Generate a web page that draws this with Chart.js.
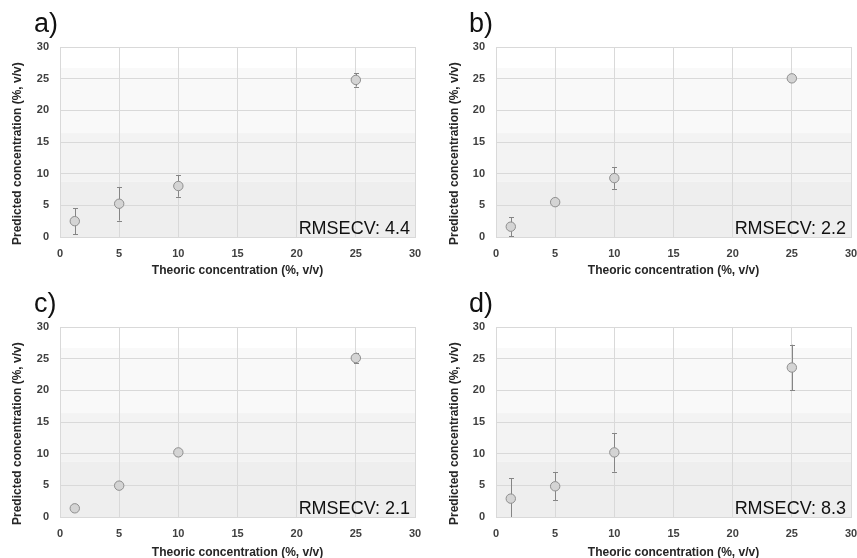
<!DOCTYPE html>
<html><head><meta charset="utf-8">
<script src="https://cdn.jsdelivr.net/npm/chart.js@4.4.0/dist/chart.umd.min.js"></script>
<style>
html,body{margin:0;padding:0;background:#fff;overflow:hidden;width:857px;height:558px;}
#wrap{position:relative;width:857px;height:558px;overflow:hidden;}
.pane{position:absolute;}
.pane canvas{display:block;}
.lbl{position:absolute;font-family:"Liberation Sans",Arial,sans-serif;color:#111;white-space:nowrap;}
.plabel{font-size:27px;line-height:27px;}
.rms{font-size:18px;line-height:18px;text-align:right;}
</style></head><body>
<div id="wrap"></div>
<script>
// ---- data ----
const theoric = [1.25, 5, 10, 25];
const predA = [2.5, 5.25, 8.05, 24.8];
const errA  = [2.05, 2.65, 1.7, 1.05];
const predB = [1.63, 5.5, 9.3, 25.05];
const errB  = [1.5, 0.3, 1.7, 0.2];
const predC = [1.37, 4.95, 10.2, 25.1];
const errC  = [0.2, 0.2, 0.5, 0.85];
const predD = [2.9, 4.85, 10.2, 23.6];
const errD  = [3.2, 2.2, 3.05, 3.6];
const axisMin = 0, axisMax = 30, axisStep = 5;
const panelLabels = ['a)', 'b)', 'c)', 'd)'];
const rmsecvValues = ['4.4', '2.2', '2.1', '8.3'];
const xTitle = 'Theoric concentration (%, v/v)';
const yTitle = 'Predicted concentration (%, v/v)';

// ---- layout per panel (positions only) ----
const panels = [
  {id:'a', pred:predA, err:errA, left:0,   top:0,   w:428, h:280, yw:60, xh:43, pr:13, yTitleOff:18},
  {id:'b', pred:predB, err:errB, left:430, top:0,   w:427, h:280, yw:66, xh:43, pr:6,  yTitleOff:25},
  {id:'c', pred:predC, err:errC, left:0,   top:280, w:428, h:282, yw:60, xh:45, pr:13, yTitleOff:18},
  {id:'d', pred:predD, err:errD, left:430, top:280, w:427, h:282, yw:66, xh:45, pr:6,  yTitleOff:25}
];

const bandPlugin = {
  id: 'bands',
  beforeDraw(chart) {
    const {ctx, chartArea: a, scales: {y}} = chart;
    const bands = [[26.7, 30, '#ffffff'], [16.4, 26.7, '#f9f9f9'], [8.7, 16.4, '#f3f3f3'], [0, 8.7, '#eeeeee']];
    ctx.save();
    bands.forEach(([lo, hi, c]) => {
      const yt = y.getPixelForValue(hi), yb = y.getPixelForValue(lo);
      ctx.fillStyle = c;
      ctx.fillRect(a.left, yt, a.right - a.left, yb - yt);
    });
    ctx.restore();
  }
};

const errPlugin = {
  id: 'errbars',
  beforeDatasetsDraw(chart, args, opts) {
    const {ctx, chartArea: a, scales: {x, y}} = chart;
    const ds = chart.data.datasets[0];
    const errs = opts.errors || [];
    ctx.save();
    ctx.beginPath();
    ctx.rect(a.left, a.top, a.right - a.left, a.bottom - a.top);
    ctx.clip();
    ctx.strokeStyle = '#858585';
    ctx.lineWidth = 1;
    ds.data.forEach((p, i) => {
      const e = errs[i] || 0;
      const px = Math.round(x.getPixelForValue(p.x)) + 0.5;
      const yt = y.getPixelForValue(p.y + e), yb = y.getPixelForValue(p.y - e);
      ctx.beginPath();
      ctx.moveTo(px, yt); ctx.lineTo(px, yb);
      ctx.moveTo(px - 2.5, Math.round(yt) + 0.5); ctx.lineTo(px + 2.5, Math.round(yt) + 0.5);
      ctx.moveTo(px - 2.5, Math.round(yb) + 0.5); ctx.lineTo(px + 2.5, Math.round(yb) + 0.5);
      ctx.stroke();
    });
    ctx.restore();
  }
};

const wrap = document.getElementById('wrap');
const FONT = '"Liberation Sans", Arial, sans-serif';

panels.forEach((p, k) => {
  const pane = document.createElement('div');
  pane.className = 'pane';
  pane.style.cssText = `left:${p.left}px;top:${p.top}px;width:${p.w}px;height:${p.h}px;`;
  const cv = document.createElement('canvas');
  cv.width = p.w; cv.height = p.h;
  cv.style.width = p.w + 'px'; cv.style.height = p.h + 'px';
  pane.appendChild(cv);
  wrap.appendChild(pane);

  const lab = document.createElement('div');
  lab.className = 'lbl plabel';
  lab.textContent = panelLabels[k];
  lab.style.left = (p.left + (p.yw === 60 ? 34 : 39)) + 'px';
  lab.style.top = (p.top + 10) + 'px';
  wrap.appendChild(lab);

  const rm = document.createElement('div');
  rm.className = 'lbl rms';
  rm.textContent = 'RMSECV: ' + rmsecvValues[k];
  const rightEdge = p.left + p.w - p.pr - 5;
  rm.style.right = (857 - rightEdge) + 'px';
  rm.style.top = (p.top + 234 - 15) + 'px';
  wrap.appendChild(rm);

  const grid = {color: '#d9d9d9', lineWidth: 1, drawTicks: false};
  const border = {color: '#d9d9d9', width: 1};
  const tickFont = {family: FONT, size: 11, weight: 'bold'};
  const titleFont = {family: FONT, size: 12, weight: 'bold', lineHeight: 1.2};

  new Chart(cv, {
    type: 'scatter',
    data: {
      datasets: [{
        data: theoric.map((t, i) => ({x: t, y: p.pred[i]})),
        pointRadius: 4.7,
        pointHoverRadius: 4.7,
        pointBackgroundColor: '#d4d4d4',
        pointBorderColor: '#8f8f8f',
        pointBorderWidth: 1,
        showLine: false
      }]
    },
    options: {
      responsive: false,
      animation: false,
      devicePixelRatio: 1,
      layout: {padding: {left: 0, top: 47, right: p.pr, bottom: 0}},
      plugins: {
        legend: {display: false},
        tooltip: {enabled: false},
        errbars: {errors: p.err}
      },
      scales: {
        x: {
          type: 'linear', min: axisMin, max: axisMax,
          ticks: {stepSize: axisStep, font: tickFont, color: '#404040', padding: 10, maxRotation: 0, autoSkip: false},
          grid: grid, border: border,
          title: {display: true, text: xTitle, font: titleFont, color: '#262626', padding: {top: 0, bottom: 1.8}},
          afterFit: s => { s.height = p.xh; s.paddingLeft = 0; s.paddingRight = 0; }
        },
        y: {
          type: 'linear', min: axisMin, max: axisMax,
          ticks: {stepSize: axisStep, font: tickFont, color: '#404040', padding: 11},
          grid: grid, border: border,
          title: {display: true, text: yTitle + '\u00a0\u00a0\u00a0\u00a0\u00a0\u00a0\u00a0', font: titleFont, color: '#262626', padding: {top: p.yTitleOff - 7.2, bottom: 0}},
          afterFit: s => { s.width = p.yw; s.paddingTop = 0; s.paddingBottom = 0; }
        }
      }
    },
    plugins: [bandPlugin, errPlugin]
  });
});
</script>
</body></html>
